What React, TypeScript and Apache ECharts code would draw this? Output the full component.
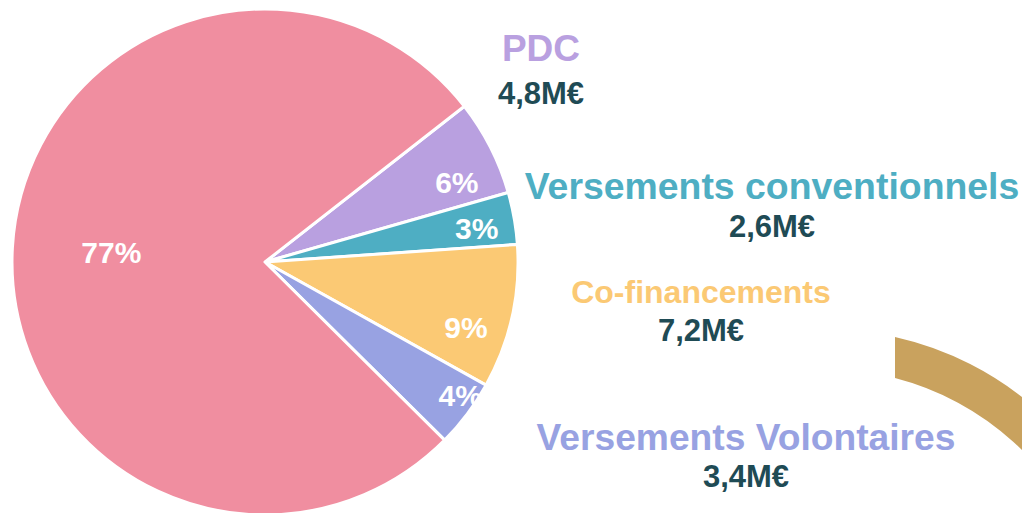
import React, { useEffect, useRef } from "react";
import * as echarts from "echarts";

const categories = ["PDC", "Versements conventionnels", "Co-financements", "Versements Volontaires", "Autres"];
const amounts = [4.8, 2.6, 7.2, 3.4, 60.3];
const sliceColors = ["#b9a0e0", "#4eaec3", "#fbc974", "#98a2e2", "#f08ea0"];
const amountLabels = ["4,8M€", "2,6M€", "7,2M€", "3,4M€"];

// layout of the side labels (centre of name line, centre of amount line, name font size)
const sideLayout = [
  { x: 541, y: 48, y2: 93, size: 37 },
  { x: 772, y: 186, y2: 226, size: 37.4 },
  { x: 701, y: 292, y2: 330, size: 32 },
  { x: 746, y: 437, y2: 476, size: 37.2 },
];
// per-slice label offset for inner percentage labels
const pctOffsets: Record<number, [number, number]> = {
  0: [2, 17],
  1: [2, 3],
  2: [-7, 19],
  3: [25, 5],
  4: [59, 3],
};

const arcPath =
  "M895 337 A320 320 0 0 1 1125.7 539.6 L1088.1 553.2 A280 280 0 0 0 895 378 Z";

let registered = false;

export default function App() {
  const ref = useRef<HTMLDivElement>(null);
  useEffect(() => {
    if (!ref.current) return;
    if (!registered) {
      echarts.graphic.registerShape("logo", echarts.graphic.extendPath(arcPath, {}) as any);
      registered = true;
    }
    const chart = echarts.init(ref.current, undefined, { renderer: "svg" });
    const total = amounts.reduce((a, b) => a + b, 0);
    const font = "Arial, 'Liberation Sans', sans-serif";

    const pieData = amounts.map((v, i) => ({
      name: categories[i],
      value: v,
      itemStyle: { color: sliceColors[i] },
    }));
    const labelData = amounts.map((v, i) => ({
      name: categories[i],
      value: v,
      label: pctOffsets[i] ? { offset: pctOffsets[i] } : {},
    }));

    const graphicEls: any[] = [
      { type: "logo", x: 0, y: 0, style: { fill: "#c9a25e" }, z: 1 },
    ];
    sideLayout.forEach((p, i) => {
      graphicEls.push({
        type: "text",
        x: p.x,
        y: p.y,
        style: {
          text: categories[i],
          fill: sliceColors[i],
          font: `bold ${p.size}px ${font}`,
          textAlign: "center",
          textVerticalAlign: "middle",
        },
      });
      graphicEls.push({
        type: "text",
        x: p.x,
        y: p.y2,
        style: {
          text: amountLabels[i],
          fill: "#1f4b55",
          font: `bold 31px ${font}`,
          textAlign: "center",
          textVerticalAlign: "middle",
        },
      });
    });

    chart.setOption({
      animation: false,
      graphic: graphicEls,
      series: [
        {
          type: "pie",
          center: [265, 262],
          radius: [0, 253],
          startAngle: 38,
          clockwise: true,
          silent: true,
          label: { show: false },
          labelLine: { show: false },
          itemStyle: { borderColor: "#ffffff", borderWidth: 3 },
          data: pieData,
        },
        {
          type: "pie",
          center: [265, 262],
          radius: [0, 420],
          startAngle: 38,
          clockwise: true,
          silent: true,
          z: 5,
          itemStyle: { color: "rgba(0,0,0,0)" },
          labelLine: { show: false },
          label: {
            show: true,
            position: "inside",
            color: "#ffffff",
            fontFamily: font,
            fontWeight: "bold",
            fontSize: 30,
            formatter: (p: any) => Math.round((p.value / total) * 100) + "%",
          },
          data: labelData,
        },
      ],
    });
    return () => chart.dispose();
  }, []);
  return (
    <div
      ref={ref}
      style={{ position: "absolute", left: 0, top: 0, width: 1022, height: 513 }}
    />
  );
}
